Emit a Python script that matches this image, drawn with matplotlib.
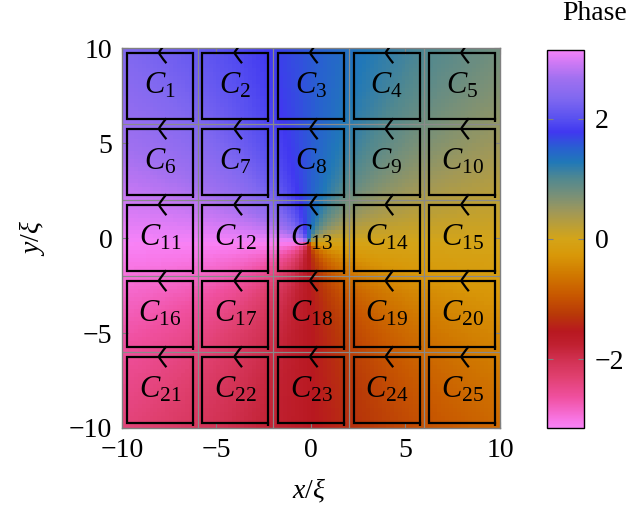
import numpy as np
import matplotlib
matplotlib.use('Agg')
import matplotlib.pyplot as plt
from matplotlib.colors import LinearSegmentedColormap
from matplotlib.path import Path
from matplotlib.patches import PathPatch

plt.rcParams['font.family'] = ['Liberation Serif', 'DejaVu Serif']
plt.rcParams['mathtext.fontset'] = 'custom'
plt.rcParams['mathtext.rm'] = 'Liberation Serif'
plt.rcParams['mathtext.it'] = 'Liberation Serif:italic'
plt.rcParams['mathtext.bf'] = 'Liberation Serif:bold'

# ---------------- data ----------------
vortex_x = -0.15          # position of the phase singularity
vortex_y = -0.20
grid_n = 96               # pixels of the phase image per side
domain = (-10.0, 10.0)
loop_cx = [-8, -4, 0, 4, 8]
loop_cy = [8, 4, 0, -4, -8]
loop_half = 1.75
loop_labels = [r'$C_{%d}$' % i for i in range(1, 26)]
grid_lines = [-6, -2, 2, 6]
xticks = [-10, -5, 0, 5, 10]
yticks = [-10, -5, 0, 5, 10]
cbar_ticks = [-2, 0, 2]

cmap_values = [-np.pi, -3.03, -2.64, -2.30, -2.00, -1.76, -1.54, -1.26, -0.93,
               -0.60, -0.27, 0.00, 0.18, 0.45, 0.73, 1.01, 1.28, 1.51, 1.78,
               2.00, 2.34, 2.67, 2.90, np.pi]
cmap_colors = ['#F882F6', '#F878E8', '#F050A0', '#E04070', '#D03050', '#C02030',
               '#B81820', '#B83808', '#C85800', '#D07800', '#D89808', '#D4A418',
               '#C0A030', '#A09858', '#789078', '#508890', '#2078B8', '#2860D0',
               '#4038F0', '#5850F0', '#8068F0', '#A070F0', '#C878F4', '#F482F8']

# ---------------- colormap ----------------
pos = [(v + np.pi) / (2 * np.pi) for v in cmap_values]
cmap = LinearSegmentedColormap.from_list('phase', list(zip(pos, cmap_colors)), N=512)

# ---------------- figure ----------------
fig = plt.figure(figsize=(6.35, 5.13), dpi=100)
ax = fig.add_axes([0.1921, 0.1657, 0.5953, 0.7407])

edges = np.linspace(domain[0], domain[1], grid_n + 1)
centers = 0.5 * (edges[:-1] + edges[1:])
X, Y = np.meshgrid(centers, centers)
phase = np.angle((X - vortex_x) + 1j * (Y - vortex_y))
im = ax.pcolormesh(edges, edges, phase, cmap=cmap, vmin=-np.pi, vmax=np.pi,
                   shading='flat', zorder=0)

for g in grid_lines:
    ax.axvline(g, color='#8a8a8a', lw=0.9, zorder=1)
    ax.axhline(g, color='#8a8a8a', lw=0.9, zorder=1)

k = 0
for cy in loop_cy:
    for cx in loop_cx:
        xl, xr = cx - loop_half, cx + loop_half
        yb, yt = cy - loop_half, cy + loop_half
        verts = [(cx, yt), (xl, yt), (xl, yb), (xr, yb)]
        ax.add_patch(PathPatch(Path(verts), fill=False, lw=1.6, ec='black',
                               capstyle='projecting', joinstyle='miter', zorder=3))
        verts2 = [(xr, yb - 0.12), (xr, yt), (cx, yt)]
        ax.add_patch(PathPatch(Path(verts2), fill=False, lw=1.6, ec='black',
                               capstyle='butt', joinstyle='miter', zorder=3))
        # curved chevron arrow head pointing left
        tip = (cx - 0.05, yt)
        head = Path([(cx + 0.35, yt + 0.55), (cx + 0.02, yt + 0.15), tip,
                     (cx + 0.02, yt - 0.15), (cx + 0.35, yt - 0.55)],
                    [Path.MOVETO, Path.CURVE3, Path.CURVE3, Path.CURVE3, Path.CURVE3])
        ax.add_patch(PathPatch(head, fill=False, lw=1.6, ec='black', zorder=4))
        ax.text(cx, cy, loop_labels[k], ha='center', va='center', fontsize=22, zorder=5)
        k += 1

ax.set_xlim(domain)
ax.set_ylim(domain)
ax.set_xticks(xticks)
ax.set_yticks(yticks)
ax.tick_params(direction='in', color='#808080', length=4, labelsize=20, pad=7,
               top=True, right=True)
for s in ax.spines.values():
    s.set_color('#808080')
    s.set_linewidth(1.0)

fig.text(309 / 635, 1 - 491 / 513, r'$x/\xi$', ha='center', va='center', fontsize=20)
fig.text(32 / 635, 1 - 238 / 513, r'$y/\xi$', ha='center', va='center', fontsize=20,
         rotation=90)

cax = fig.add_axes([0.8614, 0.1657, 0.0583, 0.737])
cb = fig.colorbar(im, cax=cax, ticks=cbar_ticks)
cb.outline.set_linewidth(1.0)
cb.outline.set_edgecolor('black')
cb.ax.tick_params(direction='in', length=4, color='#808080', labelsize=20, pad=8,
                  left=True, right=True, labelleft=False, labelright=True)
fig.text(595 / 635, 1 - 14 / 513, 'Phase', ha='center', va='center', fontsize=20)

fig.savefig('out.png', dpi=100)
